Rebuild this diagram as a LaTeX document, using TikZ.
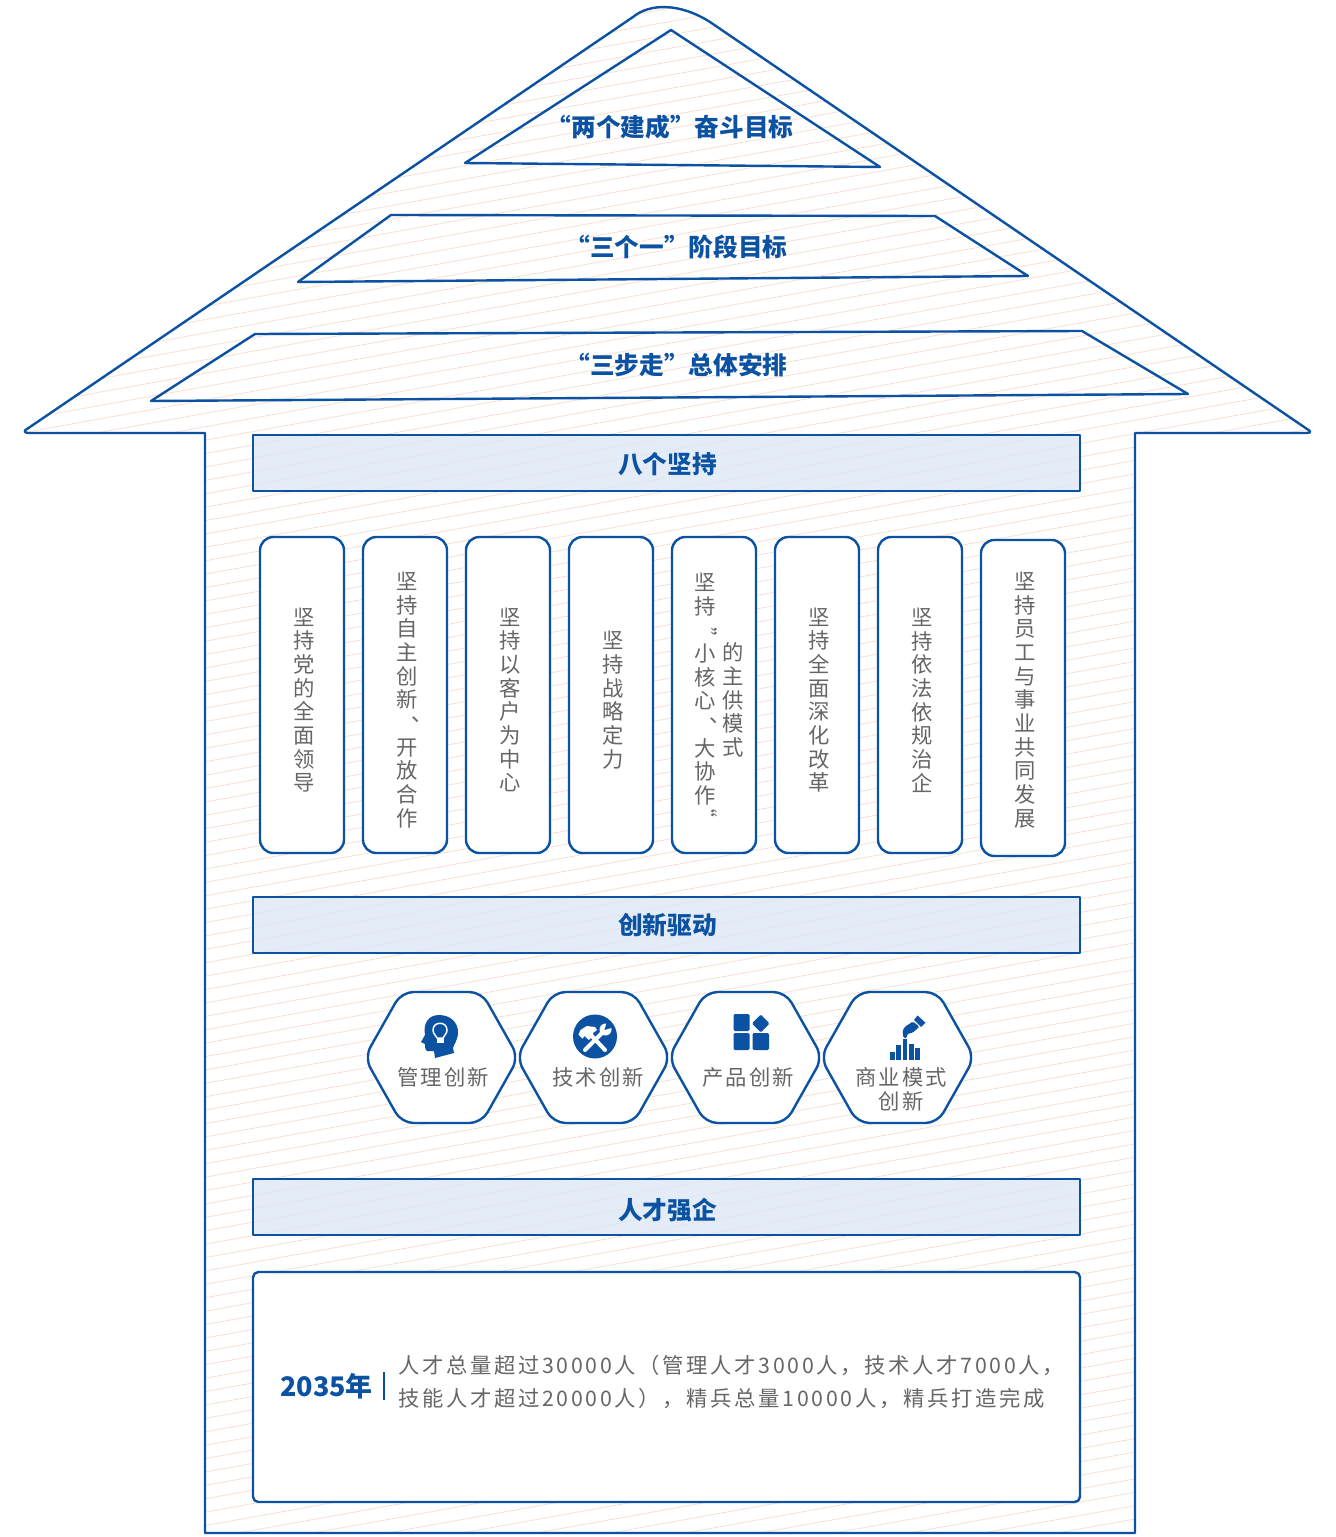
\documentclass[tikz,border=0pt]{standalone}
\usepackage{fontspec}
\setmainfont{Noto Sans CJK SC}
\newfontfamily\widefont[LetterSpace=10]{Noto Sans CJK SC}
\newfontfamily\bodyfont[LetterSpace=12.5]{Noto Sans CJK SC}
\usetikzlibrary{positioning, calc}
\definecolor{houseblue}{HTML}{0B52A3}
\definecolor{barfill}{HTML}{DCE7F5}
\definecolor{hatchpink}{HTML}{F9DFD2}
\definecolor{bodygray}{HTML}{666666}
\newcommand{\qmark}[2]{\makebox[1em][l]{\hspace{0.8em}\raisebox{#1}[0pt][0pt]{\rotatebox{90}{\fontsize{15}{15}\selectfont #2}}}}
\newcommand{\dunmark}{\makebox[1em][l]{\hspace{0.7em}\raisebox{0.45em}[0pt][0pt]{、}}}

\begin{document}
\begin{tikzpicture}[x=0.75pt, y=-0.75pt]
	% Define styles
	\tikzset{
		outline/.style={draw=houseblue, line width=1.8pt, line join=round},
		hatchline/.style={draw=hatchpink, line width=0.6pt},
		heading/.style={font=\fontsize{18.5}{22}\selectfont\bfseries, text=houseblue},
		bar/.style={outline, fill=barfill, fill opacity=0.75, minimum width=620.25pt, minimum height=42pt, outer sep=0pt},
		pillar/.style={outline, fill=white, rounded corners=10pt, minimum width=63pt, minimum height=237pt, outer sep=0pt},
		pillartext/.style={align=center, inner sep=0pt, text=bodygray, font=\fontsize{16}{17.75}\selectfont},
		hexagon/.style={outline, fill=white, rounded corners=9pt},
		hextext/.style={align=center, inner sep=0pt, text=bodygray, font=\fontsize{16}{18}\widefont},
		bodytext/.style={anchor=west, inner sep=0pt, text=bodygray, font=\fontsize{16}{18}\bodyfont},
		icon/.style={fill=houseblue, draw=none}
	}
	\useasboundingbox (0,0) rectangle (1335,1537);

	% House with hatching
	\path[fill=white] (0,0) rectangle (1335,1537);
	\begin{scope}
		\clip (25,432) -- (633,17) .. controls (650,3) and (680,3) .. (710,22) -- (1310,432) -- (1135,433) -- (1135,1533) -- (205,1533) -- (205,433) -- cycle;
		\foreach \i in {-37,...,96}
			\draw[hatchline] (0,{490.5+13.4*\i}) -- (1335,{250.2+13.4*\i});
	\end{scope}
	\draw[outline] (205,1533) -- (205,433) -- (28,433) .. controls (24,433) and (24,430) .. (27,429) -- (633,17) .. controls (650,3) and (680,3) .. (710,22) -- (1307,429) .. controls (1311,431) and (1311,433) .. (1307,433) -- (1135,433) -- (1135,1533) -- cycle;

	% Roof layers
	\draw[outline] (671,30) -- (880,167) -- (465,163) -- cycle;
	\draw[outline] (391,215) -- (935,216) -- (1028,276) -- (298,282) -- cycle;
	\draw[outline] (255,334) -- (1082,331) -- (1188,394) -- (151,401) -- cycle;
	\node[heading] (goal1) at (670,127) {“两个建成”奋斗目标};
	\node[heading] (goal2) at (676.5,247) {“三个一”阶段目标};
	\node[heading] (goal3) at (676.5,365) {“三步走”总体安排};

	% Section bars
	\node[bar] (bar1) at (666.5,463) {};
	\node[bar] (bar2) at (666.5,925) {};
	\node[bar] (bar3) at (666.5,1207) {};
	\node[heading] (bar1text) at ($(bar1)+(1,1)$) {八个坚持};
	\node[heading] (bar2text) at ($(bar2)+(1,0)$) {创新驱动};
	\node[heading] (bar3text) at ($(bar3)+(1,3)$) {人才强企};

	% Pillars
	\node[pillar] (p1) at (302,695) {};
	\node[pillar, right=14.25pt of p1] (p2) {};
	\node[pillar, right=14.25pt of p2] (p3) {};
	\node[pillar, right=14.25pt of p3] (p4) {};
	\node[pillar, right=14.25pt of p4] (p5) {};
	\node[pillar, right=14.25pt of p5] (p6) {};
	\node[pillar, right=14.25pt of p6] (p7) {};
	\node[pillar, right=14.25pt of p7, yshift=-2.25pt] (p8) {};

	\node[pillartext] (t1) at ($(p1)+(2,5)$) {坚\\持\\党\\的\\全\\面\\领\\导};
	\node[pillartext] (t2) at ($(p2)+(2,5)$) {坚\\持\\自\\主\\创\\新\\\dunmark\\开\\放\\合\\作};
	\node[pillartext] (t3) at ($(p3)+(2,5)$) {坚\\持\\以\\客\\户\\为\\中\\心};
	\node[pillartext] (t4) at ($(p4)+(2,5)$) {坚\\持\\战\\略\\定\\力};
	\node[pillartext] (t5a) at ($(p5)+(-9,5)$) {坚\\持\\\qmark{-0.48em}{“}\\小\\核\\心\\\dunmark\\大\\协\\作\\\qmark{0.46em}{”}};
	\node[pillartext] (t5b) at ($(p5)+(19,5)$) {的\\主\\供\\模\\式};
	\node[pillartext] (t6) at ($(p6)+(2,5)$) {坚\\持\\全\\面\\深\\化\\改\\革};
	\node[pillartext] (t7) at ($(p7)+(2,5)$) {坚\\持\\依\\法\\依\\规\\治\\企};
	\node[pillartext] (t8) at ($(p8)+(2,2)$) {坚\\持\\员\\工\\与\\事\\业\\共\\同\\发\\展};

	% Hexagons
	\foreach \cx in {441.5,593.5,745.5,897.5}
		\draw[hexagon] (\cx-40,992) -- (\cx+40,992) -- (\cx+77,1057.5) -- (\cx+40,1123) -- (\cx-40,1123) -- (\cx-77,1057.5) -- cycle;
	\node[hextext] (h1) at (443,1077) {管理创新};
	\node[hextext] (h2) at (598,1077) {技术创新};
	\node[hextext] (h3) at (748,1077) {产品创新};
	\node[hextext] (h4) at (901,1089) {商业模式\\创新};

	% Head icon
	\path[icon] (439,1015) .. controls (451,1015) and (458,1023) .. (458,1032) .. controls (458,1040) and (454,1044) .. (453,1048) -- (454,1053) -- (435,1058) -- (434,1051) -- (427,1051) .. controls (425,1050) and (425,1046) .. (425,1044) -- (421,1042) -- (425,1035) .. controls (423,1024) and (428,1015) .. (439,1015) -- cycle;
	\draw[white, line width=1.1pt] (437,1038) .. controls (436,1035) and (433,1034) .. (433,1030) .. controls (433,1021) and (447,1021) .. (447,1030) .. controls (447,1034) and (444,1035) .. (443,1038) -- cycle;
	\path[fill=white] (436.5,1038) rectangle (443.5,1043);

	% Tools icon
	\path[icon] (595,1036.5) circle [radius=22];
	\draw[white, line width=3pt, line cap=round] (605,1050) -- (590,1034);
	\draw[white, line width=3pt, line cap=round] (585,1050) -- (602,1033);
	\path[fill=white] (578.5,1034.5) -- (580.5,1030) -- (586.7,1026) -- (595,1027) -- (597,1030) -- (593,1033) -- (593,1036) -- (588.8,1040) -- (584.6,1036) -- (582.5,1038.6) -- cycle;
	\path[fill=white] (605.5,1029.5) circle [radius=6];
	\path[icon] (604.5,1030) -- (607,1021) -- (614,1027) -- cycle;

	% Blocks icon
	\path[icon, rounded corners=1pt] (733.5,1014) rectangle (749.5,1031);
	\path[icon, rounded corners=1pt] (733.5,1033) rectangle (749.5,1050);
	\path[icon, rounded corners=1pt] (752.5,1033) rectangle (769,1050);
	\path[icon, rounded corners=1pt] (760.8,1014.5) -- (769.5,1023.5) -- (760.8,1032.5) -- (752,1023.5) -- cycle;

	% Hand and chart icon
	\path[icon] (890,1052) rectangle (894.5,1060);
	\path[icon] (896,1045) rectangle (901,1060);
	\path[icon] (902.5,1039) rectangle (907,1060);
	\path[icon] (908.7,1044) rectangle (913.5,1060);
	\path[icon] (915.3,1048) rectangle (920,1060);
	\path[icon] (917.5,1015.5) -- (925.5,1022.7) -- (921,1027) -- (914,1020) -- cycle;
	\path[icon, rounded corners=1pt] (913,1021.5) -- (905,1026.7) -- (902.5,1031) -- (903.5,1038) -- (907,1038) -- (907,1034) -- (912.7,1032.7) -- (919.5,1026.7) -- cycle;

	% Bottom panel
	\node[outline, fill=white, rounded corners=4pt, minimum width=620.25pt, minimum height=172.5pt, outer sep=0pt] (panel) at (666.5,1387) {};
	\node[anchor=west, inner sep=0pt, text=houseblue, font=\fontsize{20.2}{24}\selectfont\bfseries] (year) at (280,1386) {2035年};
	\coordinate (sepA) at (384,1372);
	\coordinate (sepB) at (384,1400);
	\draw[draw=houseblue, line width=1.2pt] (sepA) -- (sepB);
	\node[bodytext] (line1) at (398,1365) {人才总量超过30000人（管理人才3000人，技术人才7000人，};
	\node[bodytext] (line2) at (398,1398) {技能人才超过20000人），精兵总量10000人，精兵打造完成};
\end{tikzpicture}
\end{document}
